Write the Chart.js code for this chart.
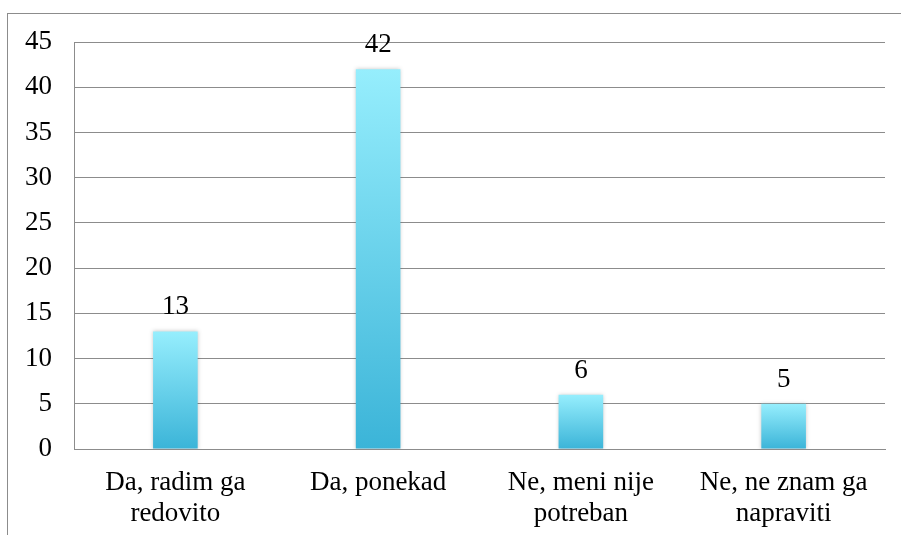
<!DOCTYPE html>
<html>
<head>
<meta charset="utf-8">
<script src="https://cdn.jsdelivr.net/npm/chart.js@4"></script>
<style>
    html, body { margin: 0; padding: 0; background: #fff; overflow: hidden; }
    #wrap { position: relative; width: 901px; height: 535px; }
    #frame {
        position: absolute; left: 7px; top: 13px; width: 1000px; height: 700px;
        border-left: 1px solid #8c8c8c; border-top: 1px solid #8c8c8c;
    }
    #chart { position: absolute; left: 0; top: 0; }
</style>
</head>
<body>
<div id="wrap">
    <div id="frame"></div>
    <canvas id="chart" width="901" height="535"></canvas>
</div>
<script>
// chart data
const categories = [
    ['Da, radim ga', 'redovito'],
    'Da, ponekad',
    ['Ne, meni nije', 'potreban'],
    ['Ne, ne znam ga', 'napraviti']
];
const answerCounts = [13, 42, 6, 5];
const yMin = 0;
const yMax = 45;
const yStep = 5;

const FONT = "'Liberation Serif', 'Times New Roman', serif";

// vertical gradient per bar: light cyan on top, deeper blue at base
function barGradient(context) {
    const chart = context.chart;
    if (!chart.chartArea) return '#5cc6e4';
    const y = chart.scales.y;
    const top = y.getPixelForValue(context.raw);
    const bottom = y.getPixelForValue(0);
    const g = chart.ctx.createLinearGradient(0, top, 0, bottom);
    g.addColorStop(0, '#96eefd');
    g.addColorStop(1, '#3bb4d8');
    return g;
}

const barShadow = {
    id: 'barShadow',
    beforeDatasetsDraw(chart) {
        const ctx = chart.ctx;
        ctx.save();
        ctx.shadowColor = 'rgba(0,0,0,0.22)';
        ctx.shadowBlur = 4;
        ctx.shadowOffsetX = 0;
        ctx.shadowOffsetY = 0;
    },
    afterDatasetsDraw(chart) {
        chart.ctx.restore();
    }
};

const valueLabels = {
    id: 'valueLabels',
    afterDatasetsDraw(chart) {
        const ctx = chart.ctx;
        const meta = chart.getDatasetMeta(0);
        ctx.save();
        ctx.font = '27px ' + FONT;
        ctx.fillStyle = '#000';
        ctx.textAlign = 'center';
        ctx.textBaseline = 'alphabetic';
        meta.data.forEach((bar, i) => {
            ctx.fillText(String(answerCounts[i]), bar.x, bar.y - 17);
        });
        ctx.restore();
    }
};

new Chart(document.getElementById('chart'), {
    type: 'bar',
    data: {
        labels: categories,
        datasets: [{
            data: answerCounts,
            backgroundColor: barGradient,
            borderWidth: 0,
            barPercentage: 0.22,
            categoryPercentage: 1
        }]
    },
    options: {
        responsive: false,
        animation: false,
        devicePixelRatio: 1,
        layout: { padding: { top: 42, right: 16, bottom: 0, left: 0 } },
        plugins: {
            legend: { display: false },
            tooltip: { enabled: false }
        },
        scales: {
            x: {
                grid: { display: false, drawTicks: false },
                border: { display: true, color: '#8c8c8c', width: 1 },
                ticks: {
                    color: '#000',
                    font: { family: FONT, size: 27, lineHeight: 1.15 },
                    padding: 18,
                    maxRotation: 0,
                    autoSkip: false
                },
                afterFit(scale) { scale.height = 86; }
            },
            y: {
                min: yMin,
                max: yMax,
                grid: { color: '#8c8c8c', lineWidth: 1, drawTicks: false },
                border: { display: true, color: '#8c8c8c', width: 1 },
                ticks: {
                    stepSize: yStep,
                    color: '#000',
                    font: { family: FONT, size: 27 },
                    padding: 22
                },
                afterFit(scale) { scale.width = 74; }
            }
        }
    },
    plugins: [barShadow, valueLabels]
});
</script>
</body>
</html>
